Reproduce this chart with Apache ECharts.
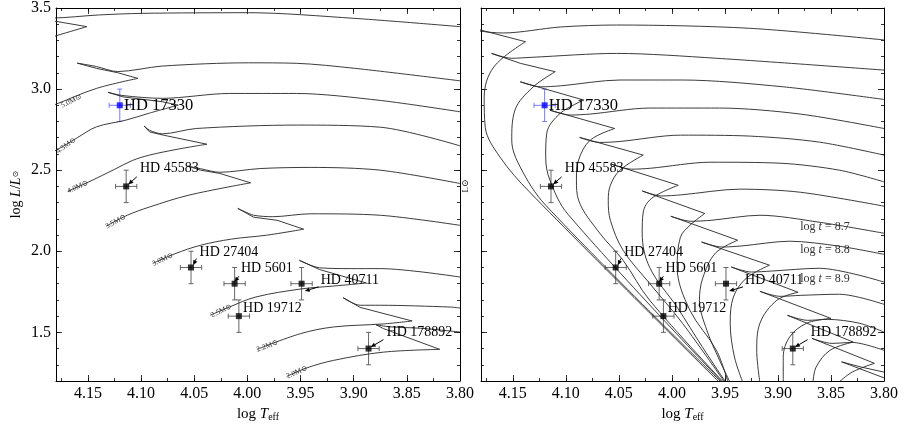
<!DOCTYPE html>
<html>
<head>
<meta charset="utf-8">
<script src="https://cdn.jsdelivr.net/npm/echarts@6/dist/echarts.min.js"></script>
<style>
html, body { margin: 0; padding: 0; background: #fff; }
#chart { width: 906px; height: 426px; }
</style>
</head>
<body>
<div id="chart"></div>
<script>
// evolutionary tracks, left panel: [log Teff, log L/Lsun]
var track_55 = [[4.200,3.290],[4.151,3.385],[4.200,3.440],[4.185,3.438],[4.140,3.457],[4.099,3.467],[3.999,3.471],[3.899,3.436],[3.800,3.385]];
var track_50 = [[4.190,2.885],[4.180,2.907],[4.142,3.004],[4.103,3.066],[4.122,3.101],[4.142,3.128],[4.160,3.160],[4.142,3.139],[4.122,3.108],[4.080,3.142],[3.999,3.162],[3.954,3.159],[3.899,3.128],[3.800,3.051]];
var track_45 = [[4.190,2.600],[4.180,2.623],[4.160,2.700],[4.142,2.767],[4.114,2.809],[4.092,2.852],[4.065,2.901],[4.080,2.922],[4.117,2.952],[4.131,2.980],[4.117,2.960],[4.080,2.943],[4.017,2.973],[3.954,2.973],[3.875,2.930],[3.800,2.860]];
var track_40 = [[4.169,2.370],[4.149,2.428],[4.125,2.505],[4.108,2.560],[4.092,2.593],[4.065,2.630],[4.038,2.660],[4.079,2.716],[4.092,2.736],[4.097,2.772],[4.092,2.746],[4.080,2.724],[4.048,2.757],[3.954,2.778],[3.875,2.765],[3.800,2.650]];
var track_35 = [[4.133,2.154],[4.113,2.222],[4.092,2.273],[4.055,2.346],[3.997,2.422],[4.026,2.480],[4.044,2.500],[4.056,2.525],[4.044,2.509],[4.026,2.487],[3.988,2.510],[3.941,2.517],[3.875,2.500],[3.800,2.418]];
var track_30 = [[4.089,1.925],[4.068,1.985],[4.044,2.037],[4.015,2.075],[3.982,2.099],[3.947,2.136],[3.972,2.191],[3.994,2.210],[4.009,2.264],[4.003,2.246],[3.994,2.222],[3.976,2.213],[3.941,2.231],[3.875,2.222],[3.800,2.160]];
var track_25 = [[4.035,1.605],[4.017,1.656],[3.992,1.718],[3.949,1.768],[3.920,1.785],[3.888,1.804],[3.932,1.887],[3.951,1.944],[3.932,1.898],[3.903,1.893],[3.875,1.893],[3.800,1.841]];
var track_22 = [[3.991,1.395],[3.950,1.492],[3.919,1.533],[3.872,1.552],[3.845,1.570],[3.894,1.654],[3.910,1.714],[3.894,1.667],[3.875,1.667],[3.809,1.656],[3.800,1.650]];
var track_20 = [[3.963,1.228],[3.944,1.281],[3.919,1.327],[3.872,1.378],[3.819,1.395],[3.872,1.523],[3.879,1.547],[3.866,1.534],[3.837,1.525],[3.800,1.502]];

// mass labels at the start of the tracks
var massNames = ['5.0', '4.5', '4.0', '3.5', '3.0', '2.5', '2.2', '2.0'];
var massLabelX = [4.175, 4.179, 4.169, 4.133, 4.089, 4.034, 3.991, 3.963];
var massLabelY = [2.895, 2.611, 2.368, 2.150, 1.920, 1.603, 1.392, 1.226];

// isochrones, right panel (log t = 8.0 ... 9.3)
var iso_80 = [[3.955,1.19],[4.134,2.364],[4.162,2.580],[4.176,2.765],[4.177,2.951],[4.168,3.136],[4.138,3.292],[4.188,3.377],[4.181,3.358],[4.159,3.346],[4.105,3.383],[4.052,3.395],[3.927,3.375],[3.800,3.303]];
var iso_81 = [[3.953,1.19],[4.119,2.284],[4.143,2.519],[4.151,2.685],[4.148,2.870],[4.131,3.012],[4.110,3.107],[4.143,3.159],[4.170,3.220],[4.151,3.190],[4.132,3.196],[4.052,3.220],[3.958,3.190],[3.800,3.117]];
var iso_82 = [[3.952,1.19],[4.098,2.228],[4.115,2.438],[4.119,2.580],[4.118,2.728],[4.105,2.852],[4.083,2.932],[4.143,3.045],[4.124,3.014],[4.105,3.020],[4.049,3.056],[3.990,3.056],[3.895,3.014],[3.800,2.936]];
var iso_83 = [[3.951,1.19],[4.021,1.698],[4.046,1.944],[4.068,2.111],[4.088,2.315],[4.090,2.438],[4.088,2.562],[4.077,2.685],[4.054,2.757],[4.115,2.870],[4.096,2.840],[4.077,2.846],[4.021,2.883],[3.955,2.883],[3.879,2.846],[3.800,2.757]];
var iso_84 = [[3.950,1.19],[3.990,1.556],[4.021,1.802],[4.046,2.006],[4.058,2.191],[4.060,2.315],[4.058,2.407],[4.049,2.500],[4.027,2.593],[4.087,2.702],[4.068,2.671],[4.049,2.677],[3.992,2.716],[3.926,2.710],[3.861,2.673],[3.800,2.593]];
var iso_85 = [[3.949,1.19],[3.971,1.407],[3.995,1.654],[4.021,1.901],[4.028,2.111],[4.027,2.241],[4.019,2.327],[3.994,2.407],[4.057,2.537],[4.038,2.506],[4.020,2.512],[3.964,2.549],[3.898,2.543],[3.842,2.500],[3.800,2.428]];
var iso_86 = [[3.947,1.19],[3.958,1.389],[3.983,1.636],[3.995,1.901],[3.992,2.086],[3.983,2.160],[3.969,2.233],[4.028,2.372],[4.010,2.341],[3.991,2.348],[3.936,2.383],[3.879,2.364],[3.800,2.278]];
var iso_87 = [[3.945,1.19],[3.955,1.327],[3.967,1.512],[3.974,1.698],[3.971,1.833],[3.959,1.988],[3.938,2.068],[4.001,2.216],[3.982,2.185],[3.963,2.191],[3.917,2.222],[3.861,2.179],[3.800,2.111]];
var iso_88 = [[3.933,1.19],[3.941,1.348],[3.945,1.556],[3.942,1.718],[3.930,1.833],[3.908,1.914],[3.972,2.057],[3.953,2.026],[3.934,2.033],[3.889,2.062],[3.842,2.031],[3.800,1.981]];
var iso_89 = [[3.917,1.19],[3.920,1.389],[3.917,1.556],[3.901,1.698],[3.881,1.747],[3.944,1.903],[3.925,1.872],[3.906,1.878],[3.861,1.895],[3.800,1.810]];
var iso_90 = [[3.895,1.19],[3.895,1.348],[3.889,1.471],[3.873,1.556],[3.850,1.586],[3.917,1.753],[3.898,1.722],[3.879,1.728],[3.842,1.735],[3.800,1.673]];
var iso_91 = [[3.867,1.19],[3.864,1.286],[3.851,1.389],[3.829,1.440],[3.891,1.605],[3.872,1.574],[3.853,1.580],[3.823,1.556],[3.800,1.502]];
var iso_92 = [[3.843,1.19],[3.830,1.255],[3.809,1.309],[3.868,1.463],[3.849,1.432],[3.830,1.438],[3.800,1.389]];
var iso_93 = [[3.780,1.170],[3.840,1.318],[3.821,1.285],[3.800,1.255]];

// age labels written on three isochrones
var isoLabelAges = ['8.7', '8.8', '8.9'];
var isoLabelX = [3.879, 3.879, 3.879];
var isoLabelY = [2.148, 2.006, 1.833];

// stars
var starNames = ['HD 17330', 'HD 45583', 'HD 27404', 'HD 5601', 'HD 40711', 'HD 19712', 'HD 178892'];
var starTeff = [4.120, 4.114, 4.053, 4.012, 3.949, 4.008, 3.886];
var starLum = [2.90, 2.40, 1.90, 1.80, 1.80, 1.60, 1.40];
var errTeff = [0.01, 0.01, 0.01, 0.01, 0.01, 0.01, 0.01];
var errLum = [0.1, 0.1, 0.1, 0.1, 0.1, 0.1, 0.1];
var highlightStar = 'HD 17330';

// annotation text anchors and arrows (NaN = no arrow)
var annTextX = [4.116, 4.101, 4.045, 4.006, 3.931, 4.004, 3.869];
var annTextY = [2.895, 2.510, 1.991, 1.895, 1.821, 1.648, 1.500];
var arrowFromX = [NaN, 4.104, 4.048, 4.008, 3.933, NaN, 3.872];
var arrowFromY = [NaN, 2.459, 1.955, 1.846, 1.780, NaN, 1.455];
var arrowToX = [NaN, 4.112, 4.051, 4.012, 3.946, NaN, 3.884];
var arrowToY = [NaN, 2.412, 1.914, 1.810, 1.755, NaN, 1.409];

// axis ticks
var yMajorTicks = [1.5, 2.0, 2.5, 3.0, 3.5];

var FONT = '"Liberation Serif", "DejaVu Serif", serif';
var LINE = '#262626';

var tracks = [track_55, track_50, track_45, track_40, track_35, track_30, track_25, track_22, track_20];
var isochrones = [iso_80, iso_81, iso_82, iso_83, iso_84, iso_85, iso_86, iso_87, iso_88, iso_89, iso_90, iso_91, iso_92, iso_93];

var chart = echarts.init(document.getElementById('chart'));

var grids = [
    { left: 56, top: 8, width: 404, height: 373, outerBoundsMode: 'none' },
    { left: 481, top: 8, width: 403, height: 373, outerBoundsMode: 'none' }
];

var xAxes = [];
var yAxes = [];

function addX(gi, pos, major, labels) {
    var ax = {
        type: 'value', gridIndex: gi, position: pos,
        min: 3.8, max: 4.18, inverse: true,
        interval: major ? 0.05 : 0.025,
        axisLine: { show: major, onZero: false, lineStyle: { color: '#000', width: 1 } },
        axisTick: { show: true, inside: true, length: major ? 6 : 3, lineStyle: { color: '#000', width: 0.8 } },
        axisLabel: {
            show: labels, color: '#000', fontFamily: FONT, fontSize: 16, margin: 5,
            formatter: function (v) {
                if (Math.abs(v * 20 - Math.round(v * 20)) > 1e-6) return '';
                return v.toFixed(2);
            }
        },
        splitLine: { show: false }
    };
    if (labels) {
        ax.name = '{a|log }{b|T}{c|eff}';
        ax.nameLocation = 'middle';
        ax.nameGap = 22;
        ax.nameTextStyle = {
            color: '#000',
            rich: {
                a: { fontFamily: FONT, fontSize: 15, color: '#000', lineHeight: 18, verticalAlign: 'bottom' },
                b: { fontFamily: FONT, fontSize: 15, fontStyle: 'italic', color: '#000', lineHeight: 18, verticalAlign: 'bottom' },
                c: { fontFamily: FONT, fontSize: 10, color: '#000', lineHeight: 14, verticalAlign: 'bottom' }
            }
        };
    }
    xAxes.push(ax);
}

function addY(gi, pos, major, labels, named) {
    var ax = {
        type: 'value', gridIndex: gi, position: pos,
        min: 1.2, max: 3.5,
        axisLine: { show: major, onZero: false, lineStyle: { color: '#000', width: 1 } },
        axisTick: { show: true, inside: true, length: major ? 6 : 3, lineStyle: { color: '#000', width: 0.8 } },
        axisLabel: {
            show: labels, color: '#000', fontFamily: FONT, fontSize: 16, margin: 5,
            formatter: function (v) { return v.toFixed(1); }
        },
        splitLine: { show: false }
    };
    if (major) {
        ax.axisTick.customValues = yMajorTicks;
        ax.axisLabel.customValues = yMajorTicks;
    } else {
        ax.interval = 0.1;
    }
    if (named) {
        ax.name = '{a|log }{b|L}{a|/}{b|L}{c|⊙}';
        ax.nameLocation = 'middle';
        ax.nameRotate = 90;
        ax.nameGap = 33;
        ax.nameTextStyle = {
            color: '#000',
            rich: {
                a: { fontFamily: FONT, fontSize: 14, color: '#000' },
                b: { fontFamily: FONT, fontSize: 14, fontStyle: 'italic', color: '#000' },
                c: { fontFamily: '"DejaVu Sans", sans-serif', fontSize: 8, color: '#000' }
            }
        };
    }
    yAxes.push(ax);
}

[0, 1].forEach(function (gi) {
    addX(gi, 'bottom', true, true);
    addX(gi, 'bottom', false, false);
    addX(gi, 'top', true, false);
    addX(gi, 'top', false, false);
    addY(gi, 'left', true, gi === 0, gi === 0);
    addY(gi, 'left', false, false, false);
    addY(gi, 'right', true, false, false);
    addY(gi, 'right', false, false, false);
});

// split a curve into the main sequence, the hook (turn-off -> blue tip) and the rest
function splitCurve(pts) {
    var t = -1, h = -1, i;
    for (i = 1; i < pts.length - 1; i++) {
        if (pts[i][0] < pts[i - 1][0] && pts[i + 1][0] > pts[i][0]) { t = i; break; }
    }
    if (t < 0) return { ms: [], hook: pts, gap: [] };
    for (i = t + 1; i < pts.length - 1; i++) {
        if (pts[i + 1][0] < pts[i][0]) { h = i; break; }
    }
    if (h < 0) h = pts.length - 1;
    return { ms: pts.slice(0, t + 1), hook: pts.slice(t, h + 1), gap: pts.slice(h) };
}

var series = [];

function addCurve(pts, ai) {
    var parts = splitCurve(pts);
    [['ms', 0.35], ['hook', 0], ['gap', 0.3]].forEach(function (p) {
        var d = parts[p[0]];
        if (d.length < 2) return;
        series.push({
            type: 'line', xAxisIndex: ai, yAxisIndex: ai, data: d,
            symbol: 'none', clip: true, silent: true, smooth: p[1],
            lineStyle: { color: LINE, width: 0.9 }
        });
    });
}

tracks.forEach(function (t) { addCurve(t, 0); });
isochrones.forEach(function (t) { addCurve(t, 4); });

// mass labels, turned along the track
series.push({
    type: 'custom', xAxisIndex: 0, yAxisIndex: 0, silent: true, z: 4,
    data: massNames.map(function (n, i) { return [massLabelX[i], massLabelY[i], i]; }),
    renderItem: function (params, api) {
        var i = params.dataIndex;
        var x = massLabelX[i];
        var p = api.coord([x, massLabelY[i]]);
        var t = tracks[i + 1];
        var q = null;
        for (var k = 0; k < t.length; k++) {
            if (t[k][0] < x - 0.015) { q = api.coord(t[k]); break; }
        }
        var ang = q ? Math.atan2(p[1] - q[1], q[0] - p[0]) : 0;
        return {
            type: 'text', x: p[0], y: p[1], rotation: ang,
            style: {
                text: massNames[i] + 'M⊙', fontFamily: FONT, fontSize: 7.5,
                fill: '#333', align: 'left', verticalAlign: 'middle'
            }
        };
    }
});

// isochrone age labels
series.push({
    type: 'custom', xAxisIndex: 4, yAxisIndex: 4, silent: true, z: 4,
    data: isoLabelAges.map(function (a, i) { return [isoLabelX[i], isoLabelY[i]]; }),
    renderItem: function (params, api) {
        var i = params.dataIndex;
        var p = api.coord([isoLabelX[i], isoLabelY[i]]);
        return {
            type: 'text', x: p[0], y: p[1],
            style: {
                text: '{r|log }{i|t}{r| = ' + isoLabelAges[i] + '}',
                rich: {
                    r: { fontFamily: FONT, fontSize: 12, fill: '#333' },
                    i: { fontFamily: FONT, fontSize: 12, fontStyle: 'italic', fill: '#333' }
                },
                align: 'left', verticalAlign: 'middle'
            }
        };
    }
});

function errorBars(params, api) {
    var i = params.dataIndex;
    var x = api.value(0), y = api.value(1), ex = api.value(2), ey = api.value(3);
    var color = starNames[i] === highlightStar ? '#6a6aff' : '#555';
    var l = api.coord([x + ex, y]), r = api.coord([x - ex, y]);
    var t = api.coord([x, y + ey]), b = api.coord([x, y - ey]);
    var c = 2.5;
    var st = { stroke: color, lineWidth: 0.9 };
    function seg(x1, y1, x2, y2) {
        return { type: 'line', shape: { x1: x1, y1: y1, x2: x2, y2: y2 }, style: st };
    }
    return {
        type: 'group', children: [
            seg(l[0], l[1], r[0], r[1]),
            seg(t[0], t[1], b[0], b[1]),
            seg(l[0], l[1] - c, l[0], l[1] + c),
            seg(r[0], r[1] - c, r[0], r[1] + c),
            seg(t[0] - c, t[1], t[0] + c, t[1]),
            seg(b[0] - c, b[1], b[0] + c, b[1])
        ]
    };
}

function notes(params, api) {
    var i = params.dataIndex;
    var p = api.coord([annTextX[i], annTextY[i]]);
    var big = starNames[i] === highlightStar;
    var kids = [{
        type: 'text', x: p[0], y: p[1],
        style: {
            text: starNames[i], fontFamily: FONT, fontSize: big ? 16.5 : 14,
            fill: '#000', align: 'left', verticalAlign: 'middle'
        }
    }];
    if (!isNaN(arrowFromX[i])) {
        var a = api.coord([arrowFromX[i], arrowFromY[i]]);
        var b = api.coord([arrowToX[i], arrowToY[i]]);
        var dx = b[0] - a[0], dy = b[1] - a[1];
        var len = Math.sqrt(dx * dx + dy * dy);
        var ux = dx / len, uy = dy / len;
        var hl = 5, hw = 2.2;
        var bx = b[0] - ux * hl, by = b[1] - uy * hl;
        kids.push({ type: 'line', shape: { x1: a[0], y1: a[1], x2: bx, y2: by }, style: { stroke: '#000', lineWidth: 1 } });
        kids.push({
            type: 'polygon',
            shape: { points: [[b[0], b[1]], [bx - uy * hw, by + ux * hw], [bx + uy * hw, by - ux * hw]] },
            style: { fill: '#000' }
        });
    }
    return { type: 'group', children: kids };
}

[0, 4].forEach(function (ai) {
    series.push({
        type: 'custom', xAxisIndex: ai, yAxisIndex: ai, silent: true, z: 3,
        data: starNames.map(function (n, i) { return [starTeff[i], starLum[i], errTeff[i], errLum[i]]; }),
        renderItem: errorBars
    });
    series.push({
        type: 'scatter', xAxisIndex: ai, yAxisIndex: ai, silent: true, z: 5,
        symbol: 'rect', symbolSize: 6,
        data: starNames.map(function (n, i) {
            return { value: [starTeff[i], starLum[i]], itemStyle: { color: n === highlightStar ? '#0000ff' : '#000' } };
        })
    });
    series.push({
        type: 'custom', xAxisIndex: ai, yAxisIndex: ai, silent: true, z: 6,
        data: starNames.map(function (n, i) { return [annTextX[i], annTextY[i]]; }),
        renderItem: notes
    });
});

chart.setOption({
    animation: false,
    backgroundColor: '#fff',
    grid: grids,
    xAxis: xAxes,
    yAxis: yAxes,
    series: series,
    graphic: [{
        type: 'text', x: 466, y: 186, rotation: Math.PI / 2,
        style: { text: 'L⊙', fontFamily: FONT, fontSize: 9, fill: '#000', align: 'center', verticalAlign: 'middle' }
    }]
});
</script>
</body>
</html>
